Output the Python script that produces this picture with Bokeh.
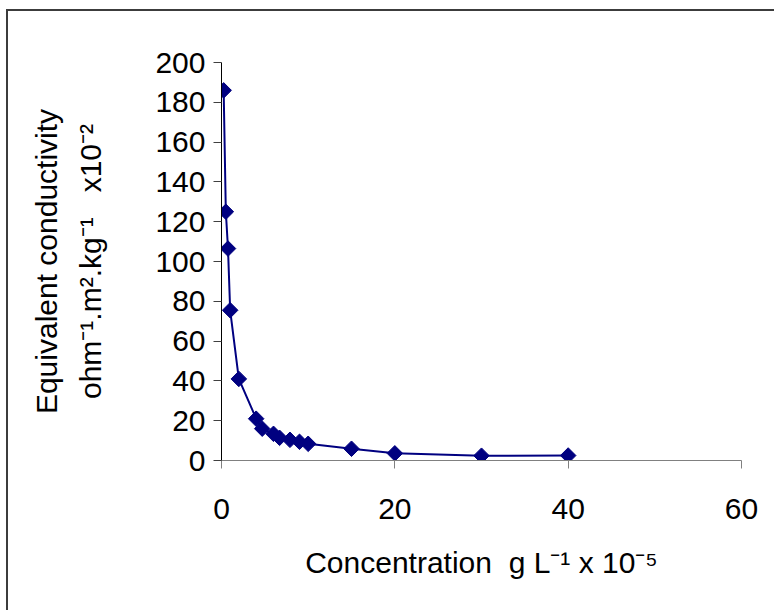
import math
from bokeh.plotting import figure
from bokeh.models import Range1d, FixedTicker
from bokeh.embed import file_html
from bokeh.resources import INLINE

# ---- data ----
concentration = [0.25, 0.5, 0.75, 1.0, 2.0, 4.0, 4.7, 6.0, 6.7, 7.9, 9.0, 10.0, 15.0, 20.0, 30.0, 40.0]
conductivity = [186.0, 125.0, 106.5, 75.5, 41.0, 21.0, 16.0, 13.4, 11.4, 10.4, 9.4, 8.4, 5.9, 3.6, 2.4, 2.5]
x_ticks = [0, 20, 40, 60]
y_ticks = [0, 20, 40, 60, 80, 100, 120, 140, 160, 180, 200]
NB = "\u00a0"
x_title = f"Concentration{NB}{NB}g L\u207b\u00b9 x 10\u207b\u2075"
y_title = f"Equivalent conductivity\nohm\u207b\u00b9.m\u00b2.kg\u207b\u00b9{NB}{NB}{NB}x10\u207b\u00b2"

FONT = "Liberation Sans"
NAVY = "#000080"
F = "30px"

# frame geometry on the canvas (canvas starts at page x=8, y=11)
CANVAS_W, CANVAS_H = 766, 599
FRAME_L, FRAME_T, FRAME_W, FRAME_H = 213, 51, 520, 398

p = figure(frame_width=FRAME_W, frame_height=FRAME_H,
           min_border_left=FRAME_L, min_border_top=FRAME_T,
           min_border_right=CANVAS_W - FRAME_L - FRAME_W,
           min_border_bottom=CANVAS_H - FRAME_T - FRAME_H,
           x_range=Range1d(0, 60), y_range=Range1d(0, 200),
           output_backend="svg", toolbar_location=None,
           background_fill_color="white", border_fill_color="white",
           styles={"margin-left": "6px", "margin-top": "9px",
                   "border-left": "2px solid #3c3c3c", "border-top": "2px solid #3c3c3c"})
p.outline_line_color = None
p.grid.visible = False

for ax in (p.xaxis, p.yaxis):
    ax.major_label_text_font = FONT
    ax.major_label_text_font_size = F
    ax.major_label_text_color = "black"
    ax.minor_tick_line_color = None
    ax.major_tick_in = 0
    ax.major_tick_out = 8
    ax.axis_label_text_font = FONT
    ax.axis_label_text_font_size = F
    ax.axis_label_text_font_style = "normal"
    ax.axis_label_text_color = "black"

p.xaxis.ticker = FixedTicker(ticks=x_ticks)
p.yaxis.ticker = FixedTicker(ticks=y_ticks)
p.xaxis.axis_line_color = "#808080"
p.xaxis.major_tick_line_color = "#808080"
p.yaxis.axis_line_color = "black"
p.yaxis.major_tick_line_color = "#404040"
p.xaxis.major_label_standoff = 30
p.yaxis.major_label_standoff = 8

p.xaxis.axis_label = x_title
p.yaxis.axis_label = y_title
p.xaxis.axis_label_standoff = 24
p.yaxis.axis_label_standoff = 45
p.yaxis.axis_label_text_line_height = 1.35

p.line(concentration, conductivity, line_color=NAVY, line_width=2)
p.scatter(concentration, conductivity, marker="square", angle=math.pi / 4,
          size=11, fill_color=NAVY, line_color=NAVY)

with open("out.html", "w") as f:
    f.write(file_html(p, INLINE))
